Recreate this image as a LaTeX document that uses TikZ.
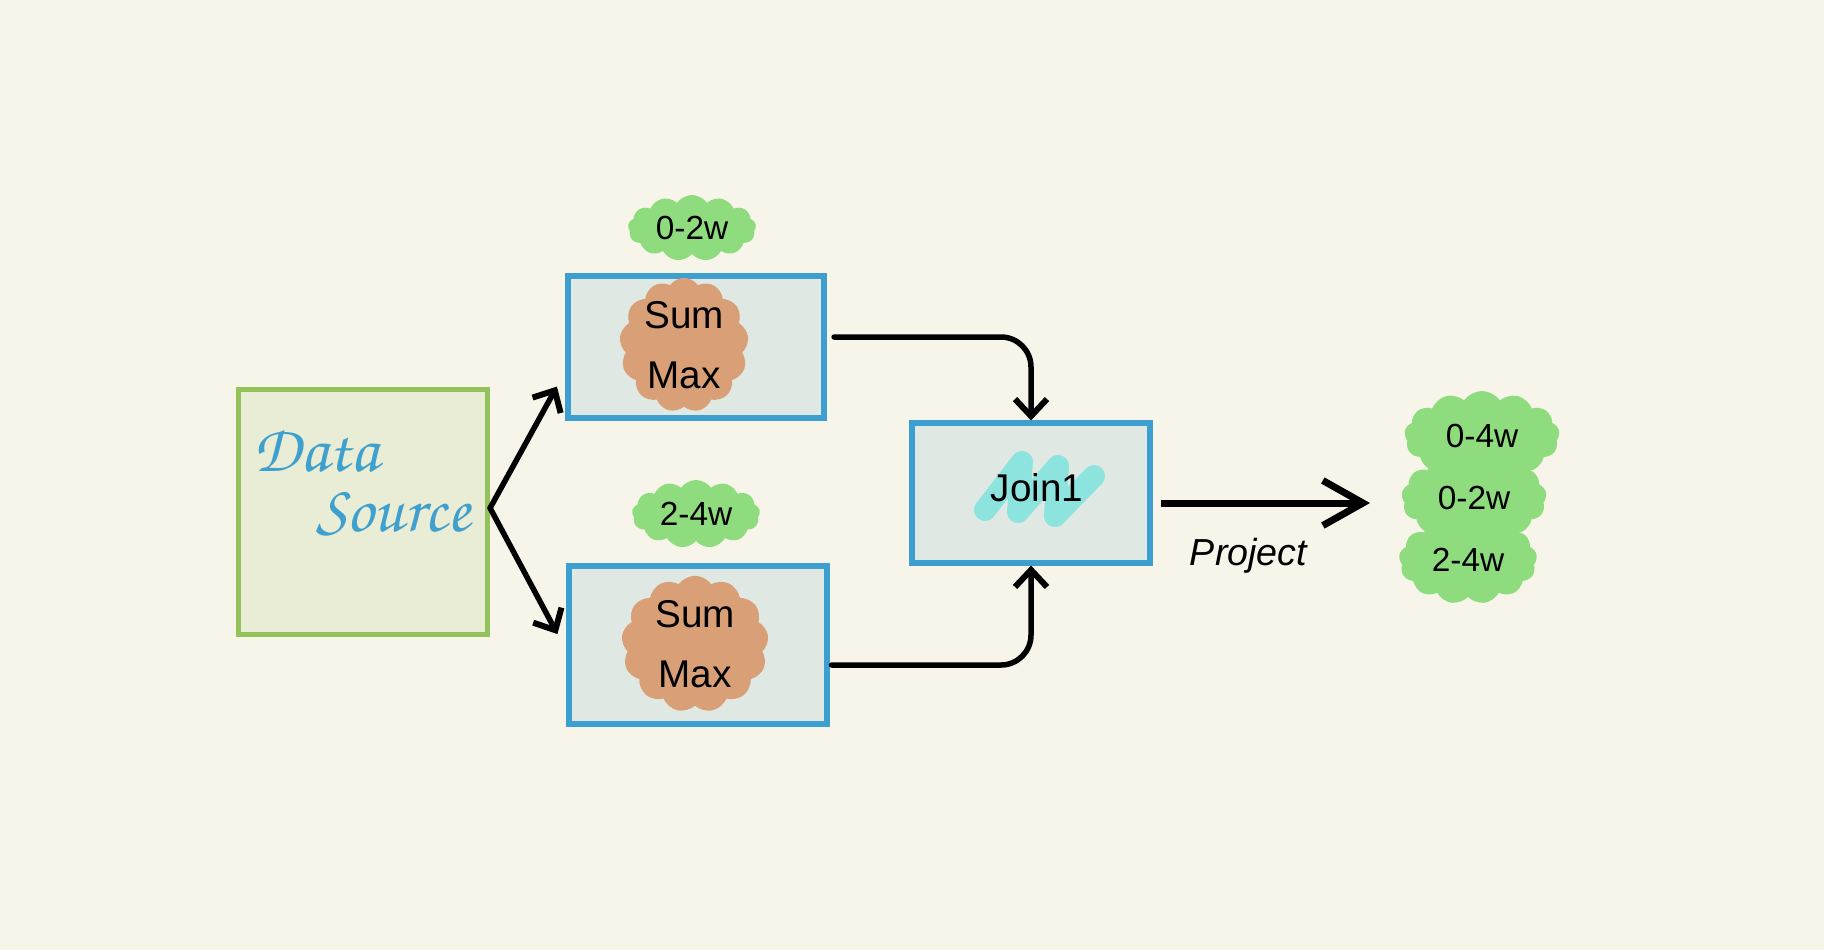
\documentclass[tikz,border=0pt]{standalone}
\usepackage[T1,TU]{fontenc}
\usepackage{fontspec}
\setmainfont{Liberation Sans}
\usetikzlibrary{arrows.meta,shapes.symbols}

\definecolor{paper}{HTML}{F7F5EA}
\definecolor{boxblue}{HTML}{3C9FCF}
\definecolor{boxfill}{HTML}{E0E8E3}
\definecolor{srcgreen}{HTML}{93C25B}
\definecolor{srcfill}{HTML}{E9EDD6}
\definecolor{hlgreen}{HTML}{8EDC7E}
\definecolor{hlorange}{HTML}{D9A077}
\definecolor{hlcyan}{HTML}{8DE4DF}
\definecolor{ink}{HTML}{3FA0CE}

\newcommand\handfont{\fontencoding{T1}\fontfamily{pzc}\fontseries{mb}\fontshape{it}\selectfont}

\tikzset{
  opbox/.style={draw=boxblue, fill=boxfill, line width=0.06cm},
  srcbox/.style={draw=srcgreen, fill=srcfill, line width=0.05cm},
  blob/.style={cloud, cloud puffs=13, cloud puff arc=110, fill=#1, inner sep=0pt},
  tag/.style={blob=hlgreen, font=\fontsize{9.5}{11}\selectfont},
  ops/.style={blob=hlorange, align=center, font=\fontsize{11}{17}\selectfont},
  link/.style={line width=0.055cm, line cap=round, -{Straight Barb[length=0.17cm, width=0.32cm, line width=0.06cm]}},
  bigarrow/.style={line width=0.07cm, -{Straight Barb[length=0.4cm, width=0.45cm]}}
}

\begin{document}
\begin{tikzpicture}[x=0.01cm, y=-0.01cm]
\useasboundingbox[fill=paper] (0,0) rectangle (1824,950);

% data source
\node[srcbox, minimum width=2.49cm, minimum height=2.45cm] (src) at (363,512) {};
\node[text=ink, font=\handfont\fontsize{19}{22}\selectfont] (srcname1) at (316,450) {Data};
\node[text=ink, font=\handfont\fontsize{19}{22}\selectfont] (srcname2) at (393,513) {Source};

% aggregations
\node[opbox, minimum width=2.56cm, minimum height=1.41cm] (agg1) at (696,347) {};
\node[opbox, minimum width=2.57cm, minimum height=1.58cm] (agg2) at (698,645) {};
\node[ops, aspect=0.95, minimum width=1.15cm, minimum height=1.2cm] (ops1) at (684,345) {Sum\\Max};
\node[ops, aspect=1.1, minimum width=1.4cm, minimum height=1.25cm] (ops2) at (695,644) {Sum\\Max};
\node[tag, aspect=2, minimum width=1.28cm, minimum height=0.66cm] (win1) at (692,228) {0-2w};
\node[tag, aspect=2, minimum width=1.28cm, minimum height=0.68cm] (win2) at (696,514) {2-4w};

% join
\node[opbox, minimum width=2.37cm, minimum height=1.39cm] (join) at (1031,493) {};
\draw[hlcyan, line width=0.22cm, line cap=round, line join=round]
  (985,510) -- (1022,462) -- (1018,512) -- (1058,466) -- (1055,516) -- (1094,476);
\node[font=\fontsize{11}{13}\selectfont] (joinname) at (1037,488) {Join1};

% result
\node[tag, aspect=1.7, minimum width=1.55cm, minimum height=0.9cm] (out1) at (1482,436) {0-4w};
\node[tag, aspect=1.7, minimum width=1.38cm, minimum height=0.88cm] (out3) at (1468,560) {2-4w};
\node[tag, aspect=1.7, minimum width=1.45cm, minimum height=0.9cm] (out2) at (1474,498) {0-2w};
\coordinate (projend) at (1370,503);

% connectors
\draw[link] ([shift={(0,-4)}]src.east) -- ([shift={(-8,-34)}]agg1.south west);
\draw[link] ([shift={(0,-4)}]src.east) -- ([shift={(-9,-11)}]agg2.west);
\draw[link, rounded corners=0.3cm] ([shift={(7,-10)}]agg1.east) -| (join.north);
\draw[link, rounded corners=0.3cm] ([shift={(2,20)}]agg2.east) -| (join.south);
\draw[bigarrow] ([shift={(8,10)}]join.east) -- (projend)
  node[pos=0.42, below=0.2cm, font=\itshape\fontsize{10.7}{13}\selectfont] (projname) {Project};
\end{tikzpicture}
\end{document}
